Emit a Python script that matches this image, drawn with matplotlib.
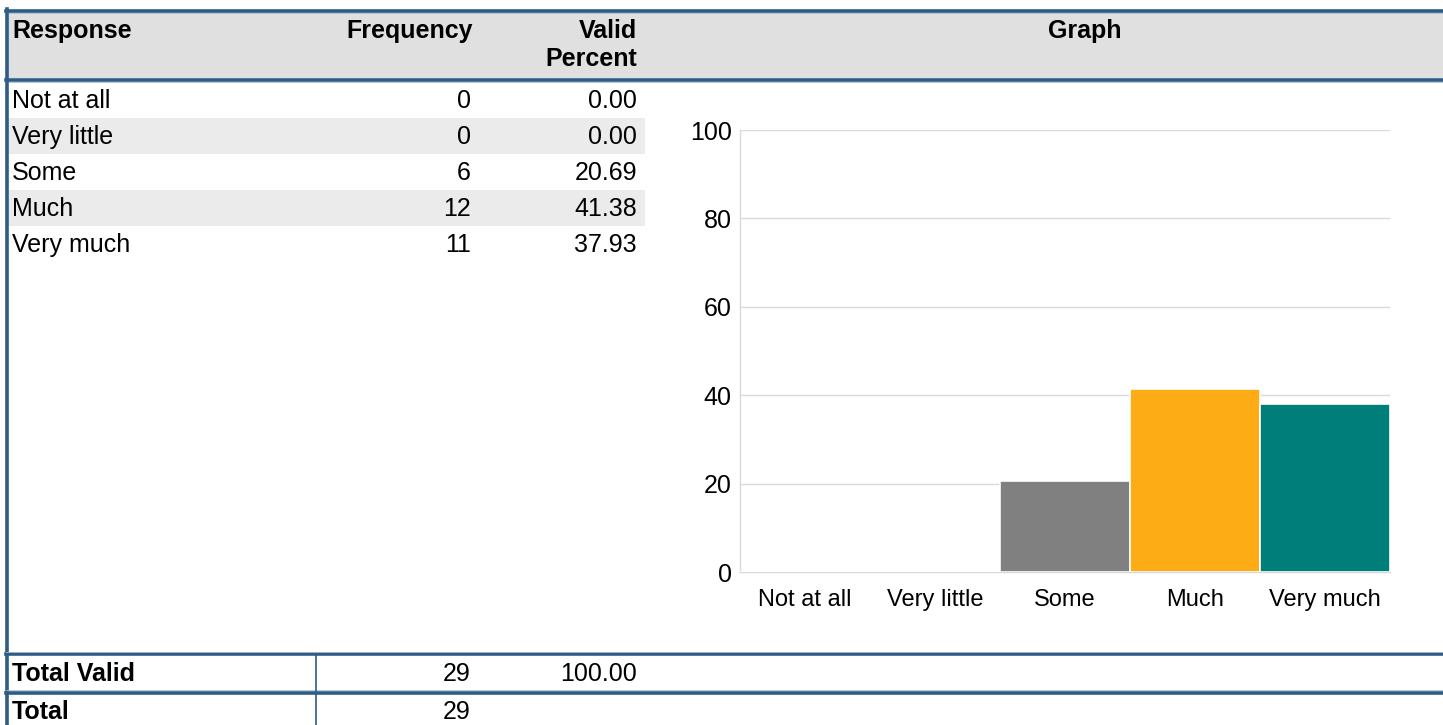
import matplotlib
matplotlib.use("Agg")
import matplotlib.pyplot as plt
from matplotlib.patches import Rectangle
from matplotlib.lines import Line2D
import numpy as np

categories = ["Not at all", "Very little", "Some", "Much", "Very much"]
frequency = [0, 0, 6, 12, 11]
valid_percent = [0.00, 0.00, 20.69, 41.38, 37.93]
bar_colors = ["#808080", "#808080", "#808080", "#FEAC15", "#007F7A"]
total_valid_freq = 29
total_valid_pct = 100.00
total_freq = 29
y_ticks = [0, 20, 40, 60, 80, 100]

W, H = 1443, 725
plt.rcParams['font.family'] = ['Liberation Sans', 'DejaVu Sans']
fig = plt.figure(figsize=(W / 100, H / 100), dpi=100)
fig.patch.set_facecolor("white")

# full-figure pixel axes for the table
tab = fig.add_axes([0, 0, 1, 1])
tab.set_xlim(0, W)
tab.set_ylim(H, 0)
tab.axis("off")

border = "#2E5C85"
light = "#A9BED3"
FS = 18

# header band
tab.add_patch(Rectangle((8, 11), W - 8, 67, facecolor="#E0E0E0", edgecolor="none"))
# top and header bottom lines
for y in (10.5, 79.5):
    tab.add_line(Line2D([6, W], [y, y], color=border, lw=2.6))
    tab.add_line(Line2D([6, W], [y + 2.2, y + 2.2], color=light, lw=0.6))
# left border
tab.add_line(Line2D([6.5, 6.5], [9, H], color=border, lw=2.6))

# header text
tab.text(12, 31, "Response", fontsize=FS, fontweight="bold", va="center", ha="left")
tab.text(473, 31, "Frequency", fontsize=FS, fontweight="bold", va="center", ha="right")
tab.text(637, 31, "Valid", fontsize=FS, fontweight="bold", va="center", ha="right")
tab.text(637, 59, "Percent", fontsize=FS, fontweight="bold", va="center", ha="right")
tab.text(1085, 31, "Graph", fontsize=FS, fontweight="bold", va="center", ha="center")

# rows
row_top = 82
row_h = 36
for i, (c, f, p) in enumerate(zip(categories, frequency, valid_percent)):
    y0 = row_top + i * row_h
    if i % 2 == 1:
        tab.add_patch(Rectangle((8, y0), 637, row_h, facecolor="#EBEBEB", edgecolor="none"))
    yc = y0 + row_h / 2 + 1
    tab.text(12, yc, c, fontsize=FS, va="center", ha="left")
    tab.text(471, yc, f"{f}", fontsize=FS, va="center", ha="right")
    tab.text(637, yc, f"{p:.2f}", fontsize=FS, va="center", ha="right")

# total lines
for y in (654, 692.5):
    tab.add_line(Line2D([6, W], [y, y], color=border, lw=2.6))
    tab.add_line(Line2D([6, W], [y - 2.2, y - 2.2], color=light, lw=0.6))
tab.add_line(Line2D([316, 316], [655, H], color=border, lw=1.2))

tab.text(12, 674, "Total Valid", fontsize=FS, fontweight="bold", va="center", ha="left")
tab.text(471, 674, f"{total_valid_freq}", fontsize=FS, va="center", ha="right")
tab.text(637, 674, f"{total_valid_pct:.2f}", fontsize=FS, va="center", ha="right")
tab.text(12, 712, "Total", fontsize=FS, fontweight="bold", va="center", ha="left")
tab.text(471, 712, f"{total_freq}", fontsize=FS, va="center", ha="right")

# chart
x0, x1 = 740, 1390
yb, yt = 572, 130
ax = fig.add_axes([x0 / W, (H - yb) / H, (x1 - x0) / W, (yb - yt) / H])
ax.set_facecolor("none")
xs = np.arange(len(categories))
ax.bar(xs, valid_percent, width=1.0, color=bar_colors, edgecolor="white", linewidth=1.2, zorder=3)
ax.set_xlim(-0.5, len(categories) - 0.5)
ax.set_ylim(0, 100)
ax.set_yticks(y_ticks)
ax.set_yticklabels([str(v) for v in y_ticks], fontsize=FS)
ax.set_xticks(xs)
ax.set_xticklabels(categories, fontsize=17)
ax.grid(axis="y", color="#D9D9D9", linewidth=1, zorder=0)
ax.tick_params(axis="both", length=0)
ax.tick_params(axis="y", pad=6)
ax.tick_params(axis="x", pad=12)
for s in ("top", "right"):
    ax.spines[s].set_visible(False)
for s in ("left", "bottom"):
    ax.spines[s].set_color("#D9D9D9")
    ax.spines[s].set_linewidth(1)

fig.savefig("out.png", dpi=100)
